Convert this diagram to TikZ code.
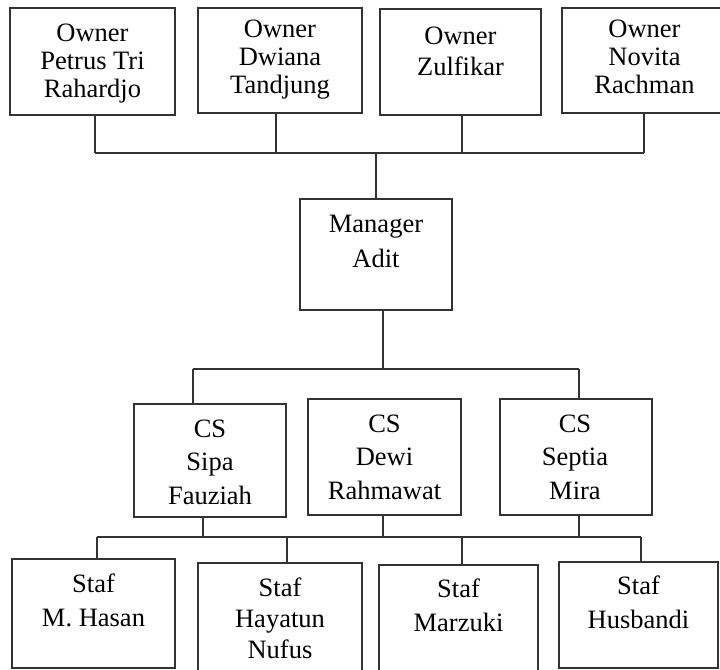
\documentclass[tikz,border=0pt]{standalone}
\usepackage{fontspec}
\setmainfont{Liberation Serif}
\usetikzlibrary{fit}
\tikzset{
  box/.style={draw=black!80, line width=1pt, inner sep=0pt},
  lbl/.style={anchor=base, align=center, inner sep=0pt,
    font=\fontsize{13.25}{#1}\selectfont},
  link/.style={draw=black!80, line width=1pt}
}
\begin{document}
\begin{tikzpicture}[x=0.5pt,y=-0.5pt]
\useasboundingbox (0,0) rectangle (720,670);
% owners
\node[box, fit={(10,8)(175,115)}] (own1) {};
\node[box, fit={(198,8)(362,113)}] (own2) {};
\node[box, fit={(380,9)(541,115)}] (own3) {};
\node[box, fit={(562,8)(723,113)}] (own4) {};
\path (own1.north) ++(0,90) node[lbl=14] {Owner\\Petrus Tri\\Rahardjo};
\path (own2.north) ++(0,86) node[lbl=14] {Owner\\Dwiana\\Tandjung};
\path (own3.north) ++(0,67) node[lbl=15.5] {Owner\\Zulfikar};
\path (own4.north) ++(2,86) node[lbl=14] {Owner\\Novita\\Rachman};
% manager
\node[box, fit={(300,199)(452,310)}] (mgr) {};
\path (mgr.north) ++(0,69) node[lbl=17.5] {Manager\\Adit};
% customer service
\node[box, fit={(134,404)(286,517)}] (cs1) {};
\node[box, fit={(308,399)(461,515)}] (cs2) {};
\node[box, fit={(500,399)(652,515)}] (cs3) {};
\path (cs1.north) ++(0,101) node[lbl=16.75] {CS\\Sipa\\Fauziah};
\path (cs2.north) ++(0,101) node[lbl=16.75] {CS\\Dewi\\Rahmawat};
\path (cs3.north) ++(-1,101) node[lbl=16.75] {CS\\Septia\\Mira};
% staf
\node[box, fit={(12,559)(175,668)}] (st1) {};
\node[box, fit={(198,563)(362,675)}] (st2) {};
\node[box, fit={(379,565)(538,675)}] (st3) {};
\node[box, fit={(559,562)(718,668)}] (st4) {};
\path (st1.north) ++(0,68) node[lbl=17] {Staf\\M. Hasan};
\path (st2.north) ++(0,96) node[lbl=15.5] {Staf\\Hayatun\\Nufus};
\path (st3.north) ++(0,67) node[lbl=17] {Staf\\Marzuki};
\path (st4.north) ++(0,67) node[lbl=17] {Staf\\Husbandi};
% owner bus
\foreach \i/\x in {1/95,2/276,3/462,4/644}
  \coordinate (ob\i) at (\x,153);
\coordinate (obm) at (376,153);
\draw[link] (ob1) -- (ob4);
\foreach \i in {1,...,4}
  \draw[link] (own\i.south -| ob\i) -- (ob\i);
\draw[link] (obm) -- (mgr.north -| obm);
% manager bus
\coordinate (mb) at (383,369);
\coordinate (cb1) at (193,369);
\coordinate (cb3) at (579,369);
\draw[link] (mgr.south -| mb) -- (mb);
\draw[link] (cb1) -- (cb3);
\draw[link] (cb1) -- (cs1.north -| cb1);
\draw[link] (cb3) -- (cs3.north -| cb3);
% staf bus
\foreach \i/\x in {1/203,2/383,3/579}
  \coordinate (cu\i) at (\x,537);
\foreach \i/\x in {1/97,2/287,3/462,4/641}
  \coordinate (sd\i) at (\x,537);
\draw[link] (sd1) -- (sd4);
\foreach \i in {1,2,3}
  \draw[link] (cs\i.south -| cu\i) -- (cu\i);
\foreach \i in {1,...,4}
  \draw[link] (sd\i) -- (st\i.north -| sd\i);
\end{tikzpicture}
\end{document}
